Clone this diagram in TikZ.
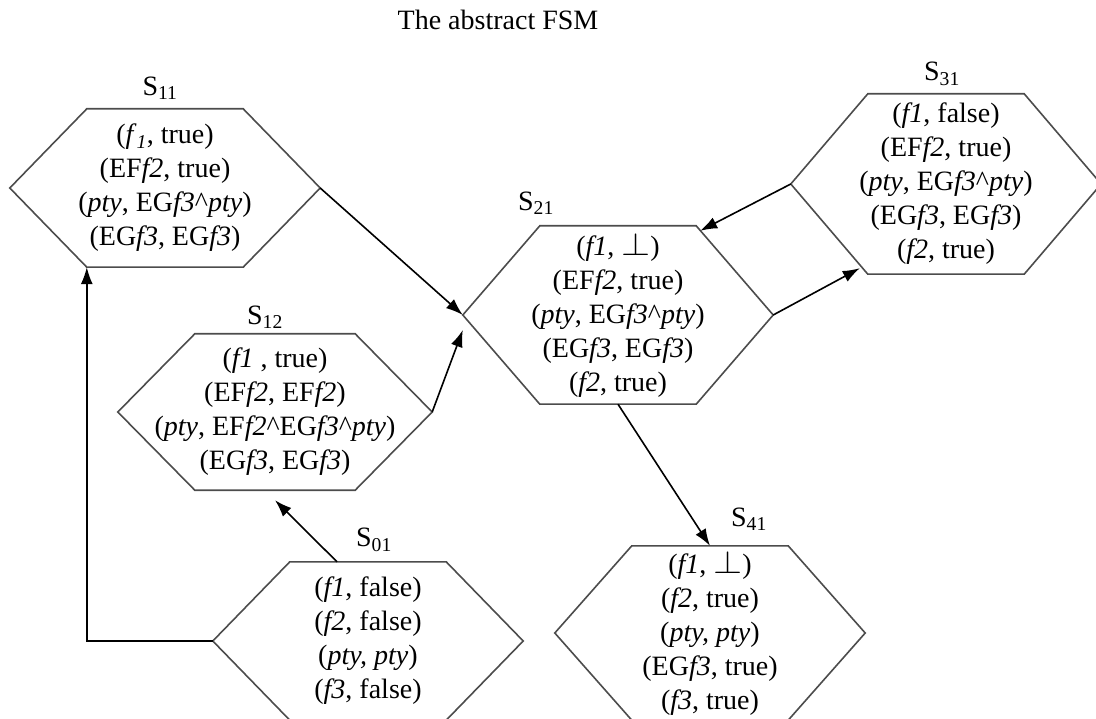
\documentclass[tikz,border=0pt]{standalone}
\usepackage{fontspec}
\setmainfont{Liberation Serif}
\usetikzlibrary{arrows.meta}

% outline of a state: flat top and bottom, pointed left and right
\newcommand{\hexstate}[1]{%
  \draw[hexline] (#1.west) -- ([xshift=77pt]#1.north west) -- ([xshift=-77pt]#1.north east)
    -- (#1.east) -- ([xshift=-77pt]#1.south east) -- ([xshift=77pt]#1.south west) -- cycle;}
% undefined value
\newcommand{\undef}{\scalebox{1.5}[1.3]{$\perp$}}

\begin{document}
\begin{tikzpicture}[
            x = 1pt, y = -1pt, % pixel grid, y going down
            > = {Latex[length=17pt,width=12pt]}, % arrow head style
            every node/.style = {font=\fontsize{28}{34}\selectfont},
            state/.style = {minimum width=310pt, inner sep=0pt, align=center},
            hexline/.style = {draw=black!70, line width=1.6pt},
            trans/.style = {->, line width=1.6pt}
        ]
	\useasboundingbox (0,0) rectangle (1096,719);
	\clip (0,0) rectangle (1096,719);

	\node (title) at (498,20) {The abstract FSM};

	\node[state, minimum height=158pt] (S11) at (165,188)
	  {(\textit{f}\textsubscript{\textit{1}}, true)\\(EF\textit{f2}, true)\\(\textit{pty}, EG\textit{f3}\textasciicircum\textit{pty})\\(EG\textit{f3}, EG\textit{f3})};
	\node[state, minimum height=178pt] (S21) at (618,315)
	  {(\textit{f1}, \undef)\\(EF\textit{f2}, true)\\(\textit{pty}, EG\textit{f3}\textasciicircum\textit{pty})\\(EG\textit{f3}, EG\textit{f3})\\(\textit{f2}, true)};
	\node[state, minimum height=180pt] (S31) at (946,184)
	  {(\textit{f1}, false)\\(EF\textit{f2}, true)\\(\textit{pty}, EG\textit{f3}\textasciicircum\textit{pty})\\(EG\textit{f3}, EG\textit{f3})\\(\textit{f2}, true)};
	\node[state, minimum height=156pt, minimum width=314pt] (S12) at (275,412)
	  {(\textit{f1} , true)\\(EF\textit{f2}, EF\textit{f2})\\(\textit{pty}, EF\textit{f2}\textasciicircum EG\textit{f3}\textasciicircum\textit{pty})\\(EG\textit{f3}, EG\textit{f3})};
	\node[state, minimum height=158pt] (S01) at (368,641)
	  {(\textit{f1}, false)\\(\textit{f2}, false)\\(\textit{pty, pty})\\(\textit{f3}, false)};
	\node[state, minimum height=174pt] (S41) at (710,633)
	  {(\textit{f1}, \undef)\\(\textit{f2}, true)\\(\textit{pty, pty})\\(EG\textit{f3}, true)\\(\textit{f3}, true)};

	\foreach \s in {S11,S21,S31,S12,S01,S41}
	  \hexstate{\s};

	\node (l11) at (160,88) {S\textsubscript{11}};
	\node (l21) at (536,203) {S\textsubscript{21}};
	\node (l31) at (942,74) {S\textsubscript{31}};
	\node (l12) at (265,317) {S\textsubscript{12}};
	\node (l01) at (374,540) {S\textsubscript{01}};
	\node (l41) at (749,519) {S\textsubscript{41}};

	\draw[trans] (S11.east) -- (S21.west);
	\draw[trans] (S12.east) -- ([yshift=-15pt]S21.west);
	\draw[trans] ([xshift=-31pt]S01.north) -- ([yshift=-10pt]S12.south);
	\draw[trans] (S01.west) -| ([xshift=77pt]S11.south west);
	\draw[trans] (S31.west) -- ([xshift=-73pt,yshift=-5pt]S21.north east);
	\draw[trans] (S21.east) -- ([xshift=69pt,yshift=6pt]S31.south west);
	\draw[trans] (S21.south) -- (S41.north);

\end{tikzpicture}
\end{document}
